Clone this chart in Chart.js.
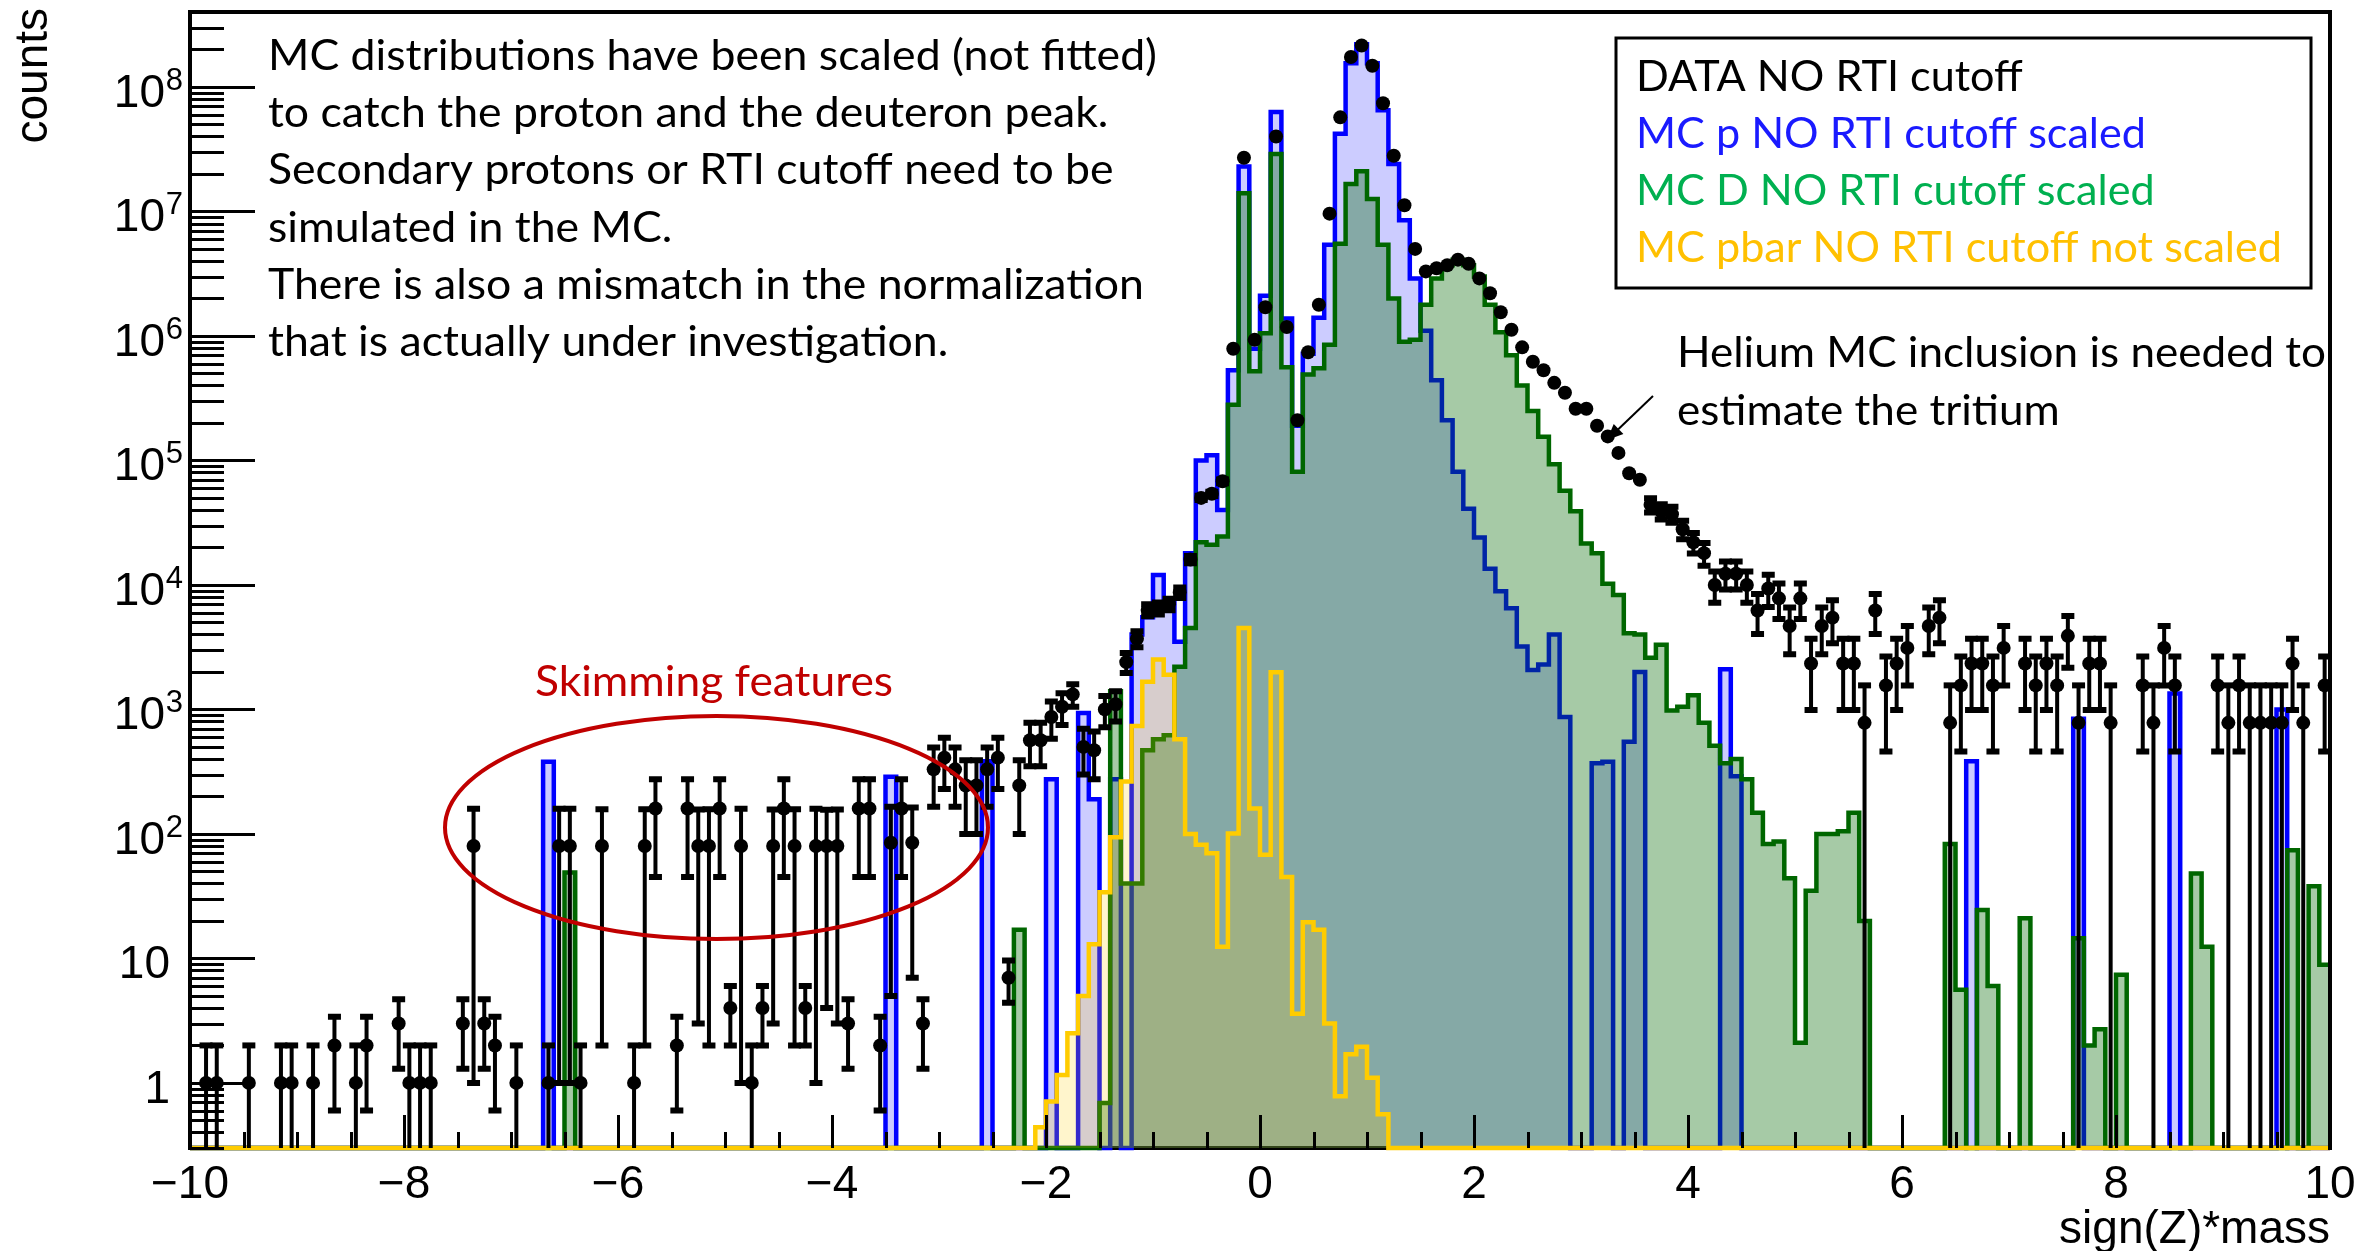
<!DOCTYPE html>
<html lang="en">
<head>
<meta charset="utf-8">
<title>sign(Z)*mass</title>
<script src="https://cdn.jsdelivr.net/npm/chart.js@4.4.1/dist/chart.umd.min.js"></script>
<style>
  html, body { margin: 0; background: #ffffff; }
  canvas { display: block; }
</style>
</head>
<body>
<canvas id="massChart" width="2379" height="1251"></canvas>
<script>
// Histogram binning: 200 bins of 0.1 from -10 to 10
const X_MIN = -10;
const X_MAX = 10;
const BIN_WIDTH = 0.1;
const Y_MIN = 0.3;
const Y_MAX = 4e8;

const xTickValues = [-10, -8, -6, -4, -2, 0, 2, 4, 6, 8, 10];
const yTickExponents = [0, 1, 2, 3, 4, 5, 6, 7, 8];

// DATA NO RTI cutoff (one line per unit of sign(Z)*mass)
const dataCounts = [
  0, 1, 1, 0, 0, 1, 0, 0, 1, 1,
  0, 1, 0, 2, 0, 1, 2, 0, 0, 3,
  1, 1, 1, 0, 0, 3, 80, 3, 2, 0,
  1, 0, 0, 1, 80, 80, 1, 0, 80, 0,
  0, 1, 80, 160, 0, 2, 160, 80, 80, 160,
  4, 80, 1, 4, 80, 160, 80, 4, 80, 80,
  80, 3, 160, 160, 2, 85, 160, 85, 3, 330,
  410, 330, 245, 245, 330, 410, 7, 245, 565, 565,
  870, 1050, 1320, 500, 470, 1000, 1100, 2400, 3700, 6300,
  6500, 7000, 8700, 16000, 50000, 54000, 68000, 7.9e5, 2.7e7, 9.3e5,
  1.7e6, 4.0e7, 1.18e6, 2.1e5, 7.4e5, 1.78e6, 9.6e6, 5.7e7, 1.74e8, 2.15e8,
  1.48e8, 7.4e7, 2.8e7, 1.12e7, 5.0e6, 3.3e6, 3.5e6, 3.7e6, 4.1e6, 3.8e6,
  2.9e6, 2.2e6, 1.55e6, 1.12e6, 8.1e5, 6.2e5, 5.3e5, 4.2e5, 3.5e5, 2.6e5,
  2.6e5, 1.9e5, 1.56e5, 1.15e5, 7.9e4, 7.0e4, 4.4e4, 3.9e4, 3.7e4, 2.8e4,
  2.2e4, 1.8e4, 1.0e4, 1.23e4, 1.23e4, 1.0e4, 6240, 9360, 7800, 4680,
  7800, 2340, 4680, 5460, 2340, 2340, 780, 6240, 1560, 2340,
  3120, 0, 4680, 5460, 780, 1560, 2340, 2340, 1560, 3120,
  0, 2340, 1560, 2340, 1560, 3900, 780, 2340, 2340, 780,
  0, 0, 1560, 780, 3120, 1560, 0, 0, 0, 1560,
  780, 1560, 780, 780, 780, 780, 2340, 780, 0, 1560
];

const dataErrors = [
  0, 1, 1, 0, 0, 1, 0, 0, 1, 1,
  0, 1, 0, 1.4, 0, 1, 1.4, 0, 0, 1.7,
  1, 1, 1, 0, 0, 1.7, 79, 1.7, 1.4, 0,
  1, 0, 0, 1, 79, 79, 1, 0, 78, 0,
  0, 1, 78, 115, 0, 1.4, 115, 77, 78, 115,
  2, 79, 1, 2, 77, 115, 78, 2, 79, 76,
  77, 1.7, 115, 115, 1.4, 80, 115, 78, 1.7, 165,
  181, 165, 145, 145, 165, 181, 2.6, 145, 215, 215,
  290, 300, 270, 200, 195, 280, 300, 440, 540, 700,
  720, 750, 830, 1100, 2000, 2100, 2300, 0, 0, 0,
  0, 0, 0, 0, 0, 0, 0, 0, 0, 0,
  0, 0, 0, 0, 0, 0, 0, 0, 0, 0,
  0, 0, 0, 0, 0, 0, 0, 0, 0, 0,
  0, 0, 0, 0, 0, 0, 5800, 5500, 5400, 4700,
  4100, 3750, 2800, 3100, 3100, 2800, 2200, 2700, 2470, 1910,
  2470, 1350, 1910, 2060, 1350, 1350, 780, 2200, 1100, 1350,
  1560, 0, 1910, 2060, 780, 1100, 1350, 1350, 1100, 1560,
  0, 1350, 1100, 1350, 1100, 1740, 780, 1350, 1350, 780,
  0, 0, 1100, 780, 1560, 1100, 0, 0, 0, 1100,
  780, 1100, 780, 780, 780, 780, 1350, 780, 0, 1100
];

// MC p NO RTI cutoff scaled
const mcProton = [
  0, 0, 0, 0, 0, 0, 0, 0, 0, 0,
  0, 0, 0, 0, 0, 0, 0, 0, 0, 0,
  0, 0, 0, 0, 0, 0, 0, 0, 0, 0,
  0, 0, 0, 380, 0, 0, 0, 0, 0, 0,
  0, 0, 0, 0, 0, 0, 0, 0, 0, 0,
  0, 0, 0, 0, 0, 0, 0, 0, 0, 0,
  0, 0, 0, 0, 0, 288, 0, 0, 0, 0,
  0, 0, 0, 0, 383, 0, 0, 0, 0, 0,
  275, 0, 0, 935, 190, 0, 275, 0, 4000, 5500,
  12000, 7800, 3500, 18000, 1.0e5, 1.1e5, 4.0e4, 5.3e5, 2.3e7, 7.9e5,
  2.1e6, 6.3e7, 1.38e6, 1.9e5, 7.2e5, 1.4e6, 5.4e6, 4.2e7, 1.55e8, 2.2e8,
  1.55e8, 6.5e7, 2.4e7, 8.5e6, 2.9e6, 1.1e6, 4.4e5, 2.1e5, 8.1e4, 4.1e4,
  2.4e4, 1.35e4, 8900, 6500, 3200, 2070, 2300, 4000, 870, 0,
  0, 370, 380, 0, 550, 2000, 0, 0, 0, 0,
  0, 0, 0, 2100, 290, 0, 0, 0, 0, 0,
  0, 0, 0, 0, 0, 0, 0, 0, 0, 0,
  0, 0, 0, 0, 0, 0, 383, 0, 0, 0,
  0, 0, 0, 0, 0, 0, 840, 0, 0, 0,
  0, 0, 0, 0, 0, 1340, 0, 0, 0, 0,
  0, 0, 0, 0, 0, 1000, 0, 0, 0, 0
];

// MC D NO RTI cutoff scaled
const mcDeuteron = [
  0, 0, 0, 0, 0, 0, 0, 0, 0, 0,
  0, 0, 0, 0, 0, 0, 0, 0, 0, 0,
  0, 0, 0, 0, 0, 0, 0, 0, 0, 0,
  0, 0, 0, 0, 0, 49, 0, 0, 0, 0,
  0, 0, 0, 0, 0, 0, 0, 0, 0, 0,
  0, 0, 0, 0, 0, 0, 0, 0, 0, 0,
  0, 0, 0, 0, 0, 0, 0, 0, 0, 0,
  0, 0, 0, 0, 0, 0, 0, 17, 0, 0,
  0, 0, 0, 0, 0, 0.69, 1400, 40, 40, 470,
  575, 620, 2200, 4500, 2.2e4, 2.1e4, 2.45e4, 2.8e5, 1.4e7, 5.2e5,
  1.05e6, 2.9e7, 5.6e5, 8.1e4, 4.9e5, 5.5e5, 8.5e5, 5.5e6, 1.66e7, 2.1e7,
  1.26e7, 5.4e6, 2.0e6, 9.0e5, 9.3e5, 1.78e6, 2.9e6, 3.7e6, 4.1e6, 3.7e6,
  3.0e6, 1.78e6, 1.07e6, 7.0e5, 4.0e5, 2.5e5, 1.55e5, 9.3e4, 5.7e4, 3.9e4,
  2.15e4, 1.8e4, 1.02e4, 8300, 4100, 4000, 2600, 3300, 980, 1050,
  1300, 780, 510, 370, 400, 275, 148, 83, 87, 44,
  2.1, 35, 100, 100, 105, 148, 20, 0, 0, 0,
  0, 0, 0, 0, 83, 5.6, 0, 24.5, 6, 0,
  0, 21, 0, 0, 0, 0, 14.5, 2, 2.7, 0,
  7.4, 0, 0, 0, 0, 0, 0, 48, 12.4, 0,
  0, 0, 0, 0, 0, 0, 74, 0, 38, 8.9
];

// MC pbar NO RTI cutoff not scaled
const mcAntiproton = [
  0, 0, 0, 0, 0, 0, 0, 0, 0, 0,
  0, 0, 0, 0, 0, 0, 0, 0, 0, 0,
  0, 0, 0, 0, 0, 0, 0, 0, 0, 0,
  0, 0, 0, 0, 0, 0, 0, 0, 0, 0,
  0, 0, 0, 0, 0, 0, 0, 0, 0, 0,
  0, 0, 0, 0, 0, 0, 0, 0, 0, 0,
  0, 0, 0, 0, 0, 0, 0, 0, 0, 0,
  0, 0, 0, 0, 0, 0, 0, 0, 0, 0.44,
  0.71, 1.16, 2.5, 5, 13, 34, 94, 264, 735, 1670,
  2520, 1900, 575, 100, 82, 70, 12.4, 101, 4500, 160,
  68, 1990, 45, 3.6, 19.5, 17, 3, 0.78, 1.7, 1.95,
  1.1, 0.56, 0, 0, 0, 0, 0, 0, 0, 0,
  0, 0, 0, 0, 0, 0, 0, 0, 0, 0,
  0, 0, 0, 0, 0, 0, 0, 0, 0, 0,
  0, 0, 0, 0, 0, 0, 0, 0, 0, 0,
  0, 0, 0, 0, 0, 0, 0, 0, 0, 0,
  0, 0, 0, 0, 0, 0, 0, 0, 0, 0,
  0, 0, 0, 0, 0, 0, 0, 0, 0, 0,
  0, 0, 0, 0, 0, 0, 0, 0, 0, 0,
  0, 0, 0, 0, 0, 0, 0, 0, 0, 0
];

const legendEntries = [
  { text: 'DATA NO RTI cutoff', color: '#000000' },
  { text: 'MC p NO RTI cutoff scaled', color: '#1a1aff' },
  { text: 'MC D NO RTI cutoff scaled', color: '#00b050' },
  { text: 'MC pbar NO RTI cutoff not scaled', color: '#ffc000' }
];

const noteLines = [
  'MC distributions have been scaled (not fitted)',
  'to catch the proton and the deuteron peak.',
  'Secondary protons or RTI cutoff need to be',
  'simulated in the MC.',
  'There is also a mismatch in the normalization',
  'that is actually under investigation.'
];

const heliumLines = ['Helium MC inclusion is needed to', 'estimate the tritium'];

const ROOT_FONT = '"Liberation Sans", Arial, sans-serif';
const NOTE_FONT = 'Lato, "Open Sans", sans-serif';

const binLeft = i => X_MIN + i * BIN_WIDTH;

// ROOT draws empty bins along the bottom of the frame
function histSteps(counts) {
  const pts = counts.map((c, i) => ({ x: binLeft(i), y: c > 0 ? c : Y_MIN }));
  pts.push({ x: X_MAX, y: pts[pts.length - 1].y });
  return pts;
}

const dataPoints = [];
dataCounts.forEach((c, i) => {
  if (c > 0) dataPoints.push({ x: binLeft(i) + BIN_WIDTH / 2, y: c, err: dataErrors[i] });
});

function histDataset(label, counts, line, fill, order) {
  return {
    label, order,
    data: histSteps(counts),
    stepped: true,
    borderColor: line,
    backgroundColor: fill,
    borderWidth: 4.5,
    borderJoinStyle: 'miter',
    pointRadius: 0,
    fill: 'start',
    clip: 4
  };
}

// Vertical error bars with end caps, like ROOT's E1 option
const errorBars = {
  id: 'errorBars',
  afterDatasetsDraw(chart) {
    const { ctx, chartArea: a, scales: { y } } = chart;
    const meta = chart.getDatasetMeta(0);
    const pts = chart.data.datasets[0].data;
    ctx.save();
    ctx.beginPath();
    ctx.rect(a.left, a.top, a.right - a.left, a.bottom - a.top);
    ctx.clip();
    ctx.strokeStyle = '#000';
    meta.data.forEach((el, i) => {
      const d = pts[i];
      if (!d.err) return;
      const top = y.getPixelForValue(d.y + d.err);
      const low = d.y - d.err;
      const bottom = low > Y_MIN ? y.getPixelForValue(low) : a.bottom + 10;
      ctx.lineWidth = 4;
      ctx.beginPath();
      ctx.moveTo(el.x, top);
      ctx.lineTo(el.x, bottom);
      ctx.stroke();
      ctx.lineWidth = 6;
      ctx.beginPath();
      ctx.moveTo(el.x - 6.5, top);
      ctx.lineTo(el.x + 6.5, top);
      if (low > Y_MIN) {
        ctx.moveTo(el.x - 6.5, bottom);
        ctx.lineTo(el.x + 6.5, bottom);
      }
      ctx.stroke();
    });
    ctx.restore();
  }
};

// Frame and inward ticks in ROOT style
const rootFrame = {
  id: 'rootFrame',
  beforeDatasetsDraw(chart) {
    const { ctx, chartArea: a } = chart;
    ctx.save();
    ctx.strokeStyle = '#000';
    ctx.lineWidth = 4;
    ctx.beginPath();
    ctx.moveTo(a.left, a.bottom);
    ctx.lineTo(a.right, a.bottom);
    ctx.stroke();
    ctx.restore();
  },
  afterDatasetsDraw(chart) {
    const { ctx, chartArea: a, scales: { x, y } } = chart;
    ctx.save();
    ctx.strokeStyle = '#000';
    ctx.lineWidth = 4;
    ctx.beginPath();
    ctx.moveTo(a.left, a.bottom + 2);
    ctx.lineTo(a.left, a.top);
    ctx.lineTo(a.right, a.top);
    ctx.lineTo(a.right, a.bottom + 2);
    ctx.stroke();

    ctx.lineWidth = 3;
    ctx.beginPath();
    for (let e = -1; e <= 8; e++) {
      for (let k = 1; k <= 9; k++) {
        const v = k * Math.pow(10, e);
        if (v < Y_MIN || v > Y_MAX) continue;
        const py = Math.round(y.getPixelForValue(v)) + 0.5;
        ctx.moveTo(a.left, py);
        ctx.lineTo(a.left + (k === 1 ? 65 : 34), py);
      }
    }
    for (let v = X_MIN; v <= X_MAX + 1e-9; v += 0.5) {
      const px = Math.round(x.getPixelForValue(v)) + 0.5;
      const major = Math.abs(v % 2) < 1e-9;
      ctx.moveTo(px, a.bottom);
      ctx.lineTo(px, a.bottom - (major ? 33 : 16));
    }
    ctx.stroke();
    ctx.restore();
  }
};

function condensedLines(ctx, lines, colors, x, firstBaseline, step, refIndex, refWidth, size) {
  ctx.save();
  ctx.font = size + 'px ' + NOTE_FONT;
  const sx = refWidth / ctx.measureText(lines[refIndex]).width;
  ctx.textAlign = 'left';
  ctx.textBaseline = 'alphabetic';
  lines.forEach((line, i) => {
    ctx.save();
    ctx.translate(x, firstBaseline + i * step);
    ctx.scale(sx, 1);
    ctx.fillStyle = colors[i];
    ctx.fillText(line, 0, 0);
    ctx.restore();
  });
  ctx.restore();
}

// Axis labels, legend box and slide notes
const overlays = {
  id: 'overlays',
  afterDraw(chart) {
    const { ctx, scales: { y } } = chart;

    // log axis labels: 1, 10, 10^2 ... 10^8
    ctx.save();
    ctx.fillStyle = '#000';
    ctx.textAlign = 'right';
    ctx.textBaseline = 'alphabetic';
    yTickExponents.forEach(n => {
      const py = y.getPixelForValue(Math.pow(10, n));
      const base = n === 0 ? '1' : '10';
      if (n >= 2) {
        ctx.font = '31px ' + ROOT_FONT;
        ctx.fillText(String(n), 183, py + 3);
        ctx.font = '46px ' + ROOT_FONT;
        ctx.fillText(base, 165, py + 20);
      } else {
        ctx.font = '46px ' + ROOT_FONT;
        ctx.fillText(base, 170, py + 20);
      }
    });

    // y axis title, right-aligned at the top of the axis
    ctx.save();
    ctx.translate(47, 8);
    ctx.rotate(-Math.PI / 2);
    ctx.font = '46px ' + ROOT_FONT;
    ctx.textAlign = 'right';
    ctx.fillText('counts', 0, 0);
    ctx.restore();
    ctx.restore();

    // notes
    condensedLines(ctx, noteLines, noteLines.map(() => '#000'), 268, 70, 57.2, 0, 889, 43);
    condensedLines(ctx, heliumLines, ['#000', '#000'], 1677, 367, 58, 0, 649, 43);
    condensedLines(ctx, ['Skimming features'], ['#c00000'], 535, 696, 0, 0, 358, 43);

    // arrow towards the data tail
    ctx.save();
    ctx.strokeStyle = '#000';
    ctx.fillStyle = '#000';
    ctx.lineWidth = 2;
    const ax0 = 1653, ay0 = 396, ax1 = 1607, ay1 = 440;
    const ang = Math.atan2(ay1 - ay0, ax1 - ax0);
    ctx.beginPath();
    ctx.moveTo(ax0, ay0);
    ctx.lineTo(ax1 - 8 * Math.cos(ang), ay1 - 8 * Math.sin(ang));
    ctx.stroke();
    ctx.beginPath();
    ctx.moveTo(ax1, ay1);
    ctx.lineTo(ax1 - 16 * Math.cos(ang) + 7 * Math.sin(ang), ay1 - 16 * Math.sin(ang) - 7 * Math.cos(ang));
    ctx.lineTo(ax1 - 16 * Math.cos(ang) - 7 * Math.sin(ang), ay1 - 16 * Math.sin(ang) + 7 * Math.cos(ang));
    ctx.closePath();
    ctx.fill();
    ctx.restore();

    // ellipse around the skimming features
    ctx.save();
    ctx.strokeStyle = '#c00000';
    ctx.lineWidth = 4;
    ctx.beginPath();
    ctx.ellipse(716.5, 827.5, 271.5, 111.5, 0, 0, 2 * Math.PI);
    ctx.stroke();
    ctx.restore();

    // legend box
    ctx.save();
    ctx.fillStyle = '#fff';
    ctx.fillRect(1616, 38, 695, 250);
    ctx.strokeStyle = '#000';
    ctx.lineWidth = 3;
    ctx.strokeRect(1616, 38, 695, 250);
    ctx.restore();
    condensedLines(ctx, legendEntries.map(e => e.text), legendEntries.map(e => e.color),
      1636, 91, 57, 3, 646, 43);
  }
};

new Chart(document.getElementById('massChart'), {
  type: 'line',
  data: {
    datasets: [
      {
        label: 'DATA NO RTI cutoff',
        order: 0,
        data: dataPoints,
        showLine: false,
        pointRadius: 7,
        pointBackgroundColor: '#000',
        pointBorderWidth: 0,
        clip: 8
      },
      histDataset('MC pbar NO RTI cutoff not scaled', mcAntiproton, '#ffcc00', 'rgba(255,204,0,0.2)', 1),
      histDataset('MC D NO RTI cutoff scaled', mcDeuteron, '#006600', 'rgba(0,102,0,0.35)', 2),
      histDataset('MC p NO RTI cutoff scaled', mcProton, '#0000ff', 'rgba(0,0,255,0.2)', 3)
    ]
  },
  options: {
    responsive: false,
    animation: false,
    devicePixelRatio: 1,
    layout: { padding: { left: 190, right: 49, top: 12, bottom: 0 } },
    plugins: {
      legend: { display: false },
      tooltip: { enabled: false }
    },
    scales: {
      x: {
        type: 'linear',
        min: X_MIN,
        max: X_MAX,
        grid: { display: false, drawTicks: false },
        border: { display: false },
        afterBuildTicks: s => { s.ticks = xTickValues.map(v => ({ value: v })); },
        afterFit: s => { s.height = 103; },
        ticks: {
          color: '#000',
          font: { family: ROOT_FONT, size: 46 },
          padding: 10,
          maxRotation: 0,
          autoSkip: false,
          callback: v => (v < 0 ? '\u2212' + Math.abs(v) : String(v))
        },
        title: {
          display: true,
          text: 'sign(Z)*mass',
          align: 'end',
          color: '#000',
          font: { family: ROOT_FONT, size: 46 },
          padding: { top: 0, bottom: -7 }
        }
      },
      y: {
        type: 'logarithmic',
        min: Y_MIN,
        max: Y_MAX,
        display: false
      }
    }
  },
  plugins: [rootFrame, errorBars, overlays]
});
</script>
</body>
</html>
